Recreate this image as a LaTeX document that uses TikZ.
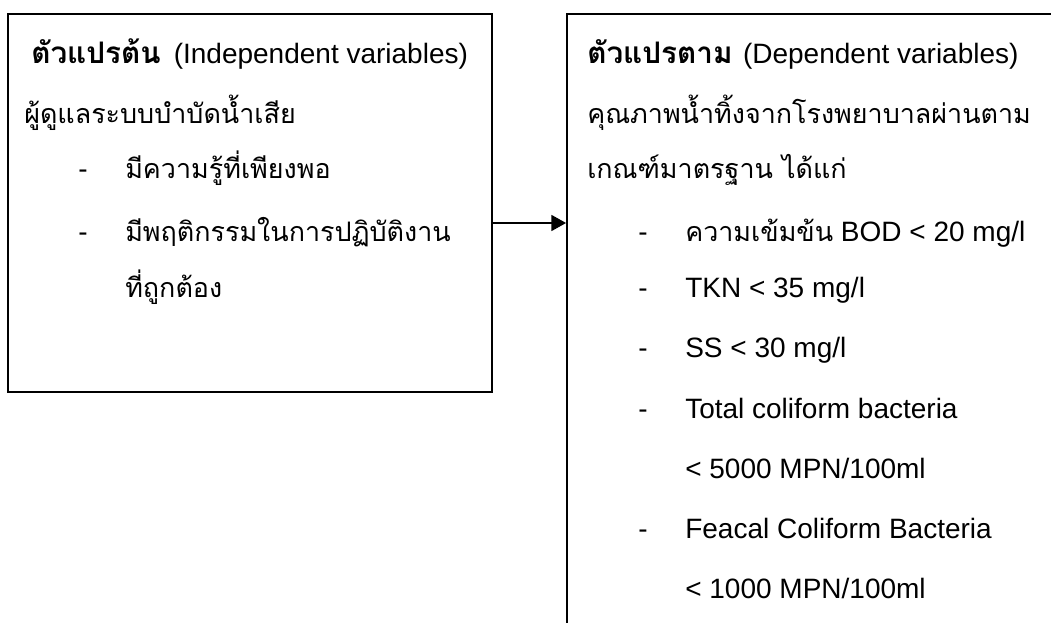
\documentclass[tikz,border=0pt]{standalone}
\usepackage{fontspec}
\setmainfont{Liberation Sans}
\newfontfamily\thaifont[Script=Thai, Scale=0.96]{Loma}
\newfontfamily\thaihead[Script=Thai, Scale=1.06]{Loma}
\usetikzlibrary{arrows.meta, fit}

\begin{document}
\begin{tikzpicture}[x=0.75pt, y=-0.75pt,
  box/.style={draw=black, line width=1.4pt, inner sep=0pt},
  txt/.style={anchor=base west, inner sep=0pt, font=\fontsize{21}{25}\selectfont},
  arr/.style={-{Triangle[length=11pt, width=12pt]}, line width=1.1pt}
]
\useasboundingbox (0,0) rectangle (1051,623);
\clip (0,0) rectangle (1051,623);
% Boxes
\node[box, fit={(8,14) (492,392)}] (indep) {};
\node[box, fit={(567,14) (1100,680)}] (dep) {};
% Arrow
\coordinate (arry) at (0,223);
\draw[arr] (indep.east |- arry) -- (dep.west |- arry);
% Independent variables
\node[txt] (indeptitle) at (31,64) {{\thaihead\bfseries ตัวแปรต้น}\hspace{4pt} (Independent variables)};
\node[txt] (carer) at (24,124) {\thaifont ผู้ดูแลระบบบำบัดน้ำเสีย};
\node[txt] (d1) at (78,179) {-};
\node[txt] (know) at (125,179) {\thaifont มีความรู้ที่เพียงพอ};
\node[txt] (d2) at (78,242) {-};
\node[txt] (behave) at (125,242) {\thaifont มีพฤติกรรมในการปฏิบัติงาน};
\node[txt] (behave2) at (125,298) {\thaifont ที่ถูกต้อง};
% Dependent variables
\node[txt] (deptitle) at (587,64) {{\thaihead\bfseries ตัวแปรตาม}\hspace{2pt} (Dependent variables)};
\node[txt] (quality) at (587,124) {\thaifont คุณภาพน้ำทิ้งจากโรงพยาบาลผ่านตาม};
\node[txt] (quality2) at (587,179) {\thaifont เกณฑ์มาตรฐาน ได้แก่};
\node[txt] (e1) at (638,242) {-};
\node[txt] (bod) at (685,242) {{\thaifont ความเข้มข้น} BOD < 20 mg/l};
\node[txt] (e2) at (638,298) {-};
\node[txt] (tkn) at (685,298) {TKN < 35 mg/l};
\node[txt] (e3) at (638,358) {-};
\node[txt] (ss) at (685,358) {SS < 30 mg/l};
\node[txt] (e4) at (638,419) {-};
\node[txt] (tcb) at (685,419) {Total coliform bacteria};
\node[txt] (tcb2) at (685,479) {< 5000 MPN/100ml};
\node[txt] (e5) at (638,539) {-};
\node[txt] (fcb) at (685,539) {Feacal Coliform Bacteria};
\node[txt] (fcb2) at (685,599) {< 1000 MPN/100ml};
\end{tikzpicture}
\end{document}
